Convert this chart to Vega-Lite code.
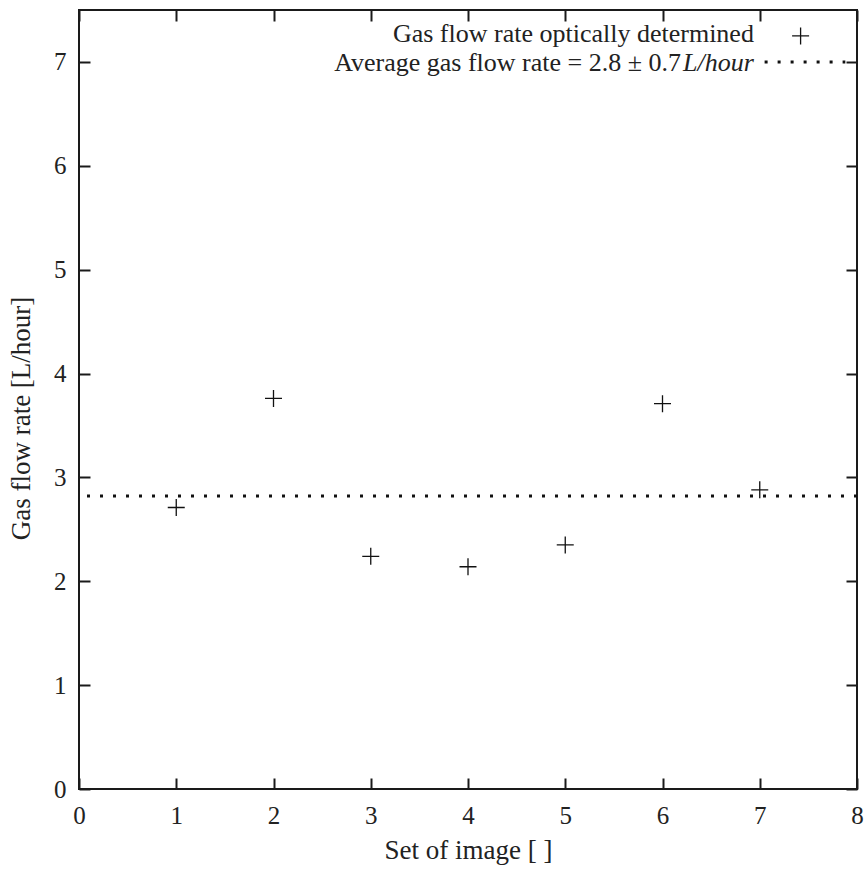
{
  "$schema": "https://vega.github.io/schema/vega-lite/v6.json",
  "width": 778,
  "height": 779,
  "autosize": {"type": "none"},
  "padding": {"left": 79, "top": 10, "right": 10, "bottom": 81},
  "background": "white",
  "config": {
    "view": {"stroke": "#1a1a1a", "strokeWidth": 2},
    "font": "Liberation Serif",
    "axis": {
      "labelFont": "Liberation Serif",
      "labelFontSize": 25,
      "labelColor": "#222",
      "labelFlush": false,
      "labelOverlap": false,
      "titleFont": "Liberation Serif",
      "titleFontSize": 27,
      "titleFontWeight": "normal",
      "titleColor": "#222",
      "grid": false,
      "domain": false,
      "tickColor": "#1a1a1a",
      "tickWidth": 2,
      "tickSize": -11
    }
  },
  "datasets": {
    "points": [
      {"set": 1, "rate": 2.71},
      {"set": 2, "rate": 3.76},
      {"set": 3, "rate": 2.24},
      {"set": 4, "rate": 2.14},
      {"set": 5, "rate": 2.35},
      {"set": 6, "rate": 3.71},
      {"set": 7, "rate": 2.88}
    ],
    "average": [{"avg": 2.82}],
    "legend": [
      {"label1": "Gas flow rate optically determined", "label2": "Average gas flow rate = 2.8 ± 0.7", "label3": "L/hour"}
    ]
  },
  "resolve": {"axis": {"x": "independent", "y": "independent"}},
  "layer": [
    {
      "data": {"name": "points"},
      "mark": {"type": "point", "shape": "M-1,0H1M0,-1V1", "size": 289, "filled": false, "color": "#111", "strokeWidth": 1.3, "opacity": 1},
      "encoding": {
        "x": {
          "field": "set", "type": "quantitative",
          "scale": {"domain": [0, 8], "nice": false, "zero": false},
          "axis": {"orient": "bottom", "values": [0, 1, 2, 3, 4, 5, 6, 7, 8], "title": "Set of image [ ]", "labelPadding": 25, "titlePadding": 9}
        },
        "y": {
          "field": "rate", "type": "quantitative",
          "scale": {"domain": [0, 7.5], "nice": false, "zero": false},
          "axis": {"orient": "left", "values": [0, 1, 2, 3, 4, 5, 6, 7], "title": "Gas flow rate [L/hour]", "labelPadding": 24, "titlePadding": 18, "titleY": 408}
        }
      }
    },
    {
      "data": {"name": "average"},
      "mark": {"type": "rule", "strokeDash": [3, 10], "strokeWidth": 3, "color": "#111"},
      "encoding": {
        "y": {
          "field": "avg", "type": "quantitative",
          "axis": {"orient": "right", "values": [0, 1, 2, 3, 4, 5, 6, 7], "labels": false, "title": null}
        }
      }
    },
    {
      "data": {"name": "average"},
      "mark": {"type": "rule", "strokeDash": [3, 10], "strokeWidth": 3, "color": "#111"},
      "encoding": {
        "x": {"datum": 7.05, "type": "quantitative", "axis": {"orient": "top", "values": [0, 1, 2, 3, 4, 5, 6, 7, 8], "labels": false, "title": null}},
        "x2": {"datum": 7.88},
        "y": {"datum": 7.0, "type": "quantitative", "axis": null}
      }
    },
    {
      "data": {"name": "average"},
      "mark": {"type": "point", "shape": "M-1,0H1M0,-1V1", "size": 289, "filled": false, "color": "#111", "strokeWidth": 1.3, "opacity": 1},
      "encoding": {
        "x": {"datum": 7.42, "type": "quantitative", "axis": null},
        "y": {"datum": 7.25, "type": "quantitative", "axis": null}
      }
    },
    {
      "data": {"name": "legend"},
      "mark": {"type": "text", "align": "right", "baseline": "middle", "font": "Liberation Serif", "fontSize": 26, "color": "#222"},
      "encoding": {
        "x": {"datum": 6.94, "type": "quantitative", "axis": null},
        "y": {"datum": 7.27, "type": "quantitative", "axis": null},
        "text": {"field": "label1"}
      }
    },
    {
      "data": {"name": "legend"},
      "mark": {"type": "text", "align": "right", "baseline": "middle", "font": "Liberation Serif", "fontSize": 26, "color": "#222"},
      "encoding": {
        "x": {"datum": 6.19, "type": "quantitative", "axis": null},
        "y": {"datum": 6.99, "type": "quantitative", "axis": null},
        "text": {"field": "label2"}
      }
    },
    {
      "data": {"name": "legend"},
      "mark": {"type": "text", "align": "right", "baseline": "middle", "font": "Liberation Serif", "fontSize": 26, "fontStyle": "italic", "color": "#222"},
      "encoding": {
        "x": {"datum": 6.94, "type": "quantitative", "axis": null},
        "y": {"datum": 6.99, "type": "quantitative", "axis": null},
        "text": {"field": "label3"}
      }
    }
  ]
}
